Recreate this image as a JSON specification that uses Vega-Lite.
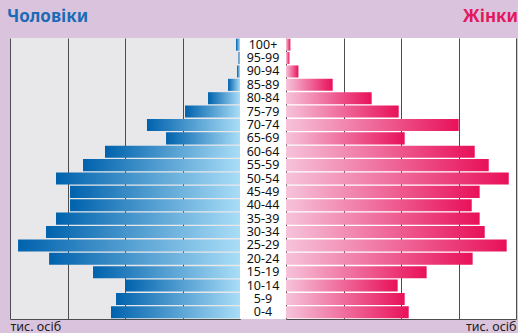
{
  "$schema": "https://vega.github.io/schema/vega-lite/v6.json",
  "background": "#dac4dd",
  "padding": {"left": 7, "top": 8, "right": 2, "bottom": 0},
  "spacing": 0,
  "bounds": "flush",
  "config": {"view": {"stroke": null}, "font": "Noto Sans", "concat": {"spacing": 0}},
  "data": {"values": [
    {"age": "100+", "sex": "m", "value": 3.5}, {"age": "100+", "sex": "f", "value": 3.8},
    {"age": "95-99", "sex": "m", "value": 1.3}, {"age": "95-99", "sex": "f", "value": 3.0},
    {"age": "90-94", "sex": "m", "value": 2.6}, {"age": "90-94", "sex": "f", "value": 10.8},
    {"age": "85-89", "sex": "m", "value": 10.4}, {"age": "85-89", "sex": "f", "value": 40.6},
    {"age": "80-84", "sex": "m", "value": 27.8}, {"age": "80-84", "sex": "f", "value": 74.5},
    {"age": "75-79", "sex": "m", "value": 47.8}, {"age": "75-79", "sex": "f", "value": 98.0},
    {"age": "70-74", "sex": "m", "value": 80.9}, {"age": "70-74", "sex": "f", "value": 150.2},
    {"age": "65-69", "sex": "m", "value": 64.3}, {"age": "65-69", "sex": "f", "value": 103.2},
    {"age": "60-64", "sex": "m", "value": 117.4}, {"age": "60-64", "sex": "f", "value": 164.1},
    {"age": "55-59", "sex": "m", "value": 136.5}, {"age": "55-59", "sex": "f", "value": 176.3},
    {"age": "50-54", "sex": "m", "value": 160.0}, {"age": "50-54", "sex": "f", "value": 193.7},
    {"age": "45-49", "sex": "m", "value": 147.8}, {"age": "45-49", "sex": "f", "value": 168.4},
    {"age": "40-44", "sex": "m", "value": 147.8}, {"age": "40-44", "sex": "f", "value": 161.5},
    {"age": "35-39", "sex": "m", "value": 160.0}, {"age": "35-39", "sex": "f", "value": 168.4},
    {"age": "30-34", "sex": "m", "value": 168.7}, {"age": "30-34", "sex": "f", "value": 172.8},
    {"age": "25-29", "sex": "m", "value": 193.0}, {"age": "25-29", "sex": "f", "value": 191.9},
    {"age": "20-24", "sex": "m", "value": 166.0}, {"age": "20-24", "sex": "f", "value": 162.3},
    {"age": "15-19", "sex": "m", "value": 127.8}, {"age": "15-19", "sex": "f", "value": 122.3},
    {"age": "10-14", "sex": "m", "value": 100.0}, {"age": "10-14", "sex": "f", "value": 97.1},
    {"age": "5-9", "sex": "m", "value": 107.8}, {"age": "5-9", "sex": "f", "value": 103.2},
    {"age": "0-4", "sex": "m", "value": 112.2}, {"age": "0-4", "sex": "f", "value": 106.7}
  ]},
  "hconcat": [
    {
      "width": 230, "height": 281,
      "view": {"fill": "#e8e8ea", "stroke": null},
      "title": {"text": "Чоловіки", "anchor": "start", "color": "#1a6cb6", "fontSize": 17, "fontWeight": "bold", "dx": -3, "offset": 12},
      "transform": [{"filter": "datum.sex === 'm'"}],
      "mark": {"type": "bar", "color": {"gradient": "linear", "x1": 0, "x2": 1, "y1": 0, "y2": 0, "stops": [{"offset": 0, "color": "#0062ad"}, {"offset": 1, "color": "#a9ddf7"}]}},
      "encoding": {
        "y": {"field": "age", "type": "nominal", "sort": ["100+","95-99","90-94","85-89","80-84","75-79","70-74","65-69","60-64","55-59","50-54","45-49","40-44","35-39","30-34","25-29","20-24","15-19","10-14","5-9","0-4"], "axis": null, "scale": {"paddingInner": 0.1, "paddingOuter": 0.05}},
        "x": {"field": "value", "type": "quantitative", "scale": {"domain": [0, 200], "reverse": true, "nice": false},
          "axis": {"values": [0, 50, 100, 150, 200], "grid": true, "gridColor": "#4d4d4d", "gridOpacity": 1, "labels": false, "ticks": false, "domainColor": "#4d4d4d", "title": "тис. осіб", "titleAnchor": "end", "titleAlign": "left", "titleFontWeight": "normal", "titleFontSize": 12.5, "titlePadding": 1, "titleColor": "#222222"}}
      }
    },
    {
      "width": 46, "height": 281,
      "view": {"fill": "#ffffff", "stroke": null},
      "transform": [{"filter": "datum.sex === 'm'"}],
      "mark": {"type": "text", "fontSize": 12.5, "color": "#111111", "align": "center", "baseline": "middle"},
      "encoding": {
        "y": {"field": "age", "type": "nominal", "sort": ["100+","95-99","90-94","85-89","80-84","75-79","70-74","65-69","60-64","55-59","50-54","45-49","40-44","35-39","30-34","25-29","20-24","15-19","10-14","5-9","0-4"], "axis": null, "scale": {"paddingInner": 0.1, "paddingOuter": 0.05}},
        "text": {"field": "age", "type": "nominal"}
      }
    },
    {
      "width": 230, "height": 281,
      "view": {"fill": "#ffffff", "stroke": null},
      "title": {"text": "Жінки", "anchor": "end", "color": "#e3185f", "fontSize": 17, "fontWeight": "bold", "dx": 2, "offset": 12},
      "transform": [{"filter": "datum.sex === 'f'"}],
      "mark": {"type": "bar", "color": {"gradient": "linear", "x1": 0, "x2": 1, "y1": 0, "y2": 0, "stops": [{"offset": 0, "color": "#f6c3da"}, {"offset": 1, "color": "#e8115a"}]}},
      "encoding": {
        "y": {"field": "age", "type": "nominal", "sort": ["100+","95-99","90-94","85-89","80-84","75-79","70-74","65-69","60-64","55-59","50-54","45-49","40-44","35-39","30-34","25-29","20-24","15-19","10-14","5-9","0-4"], "axis": null, "scale": {"paddingInner": 0.1, "paddingOuter": 0.05}},
        "x": {"field": "value", "type": "quantitative", "scale": {"domain": [0, 200], "nice": false},
          "axis": {"values": [0, 50, 100, 150, 200], "grid": true, "gridColor": "#4d4d4d", "gridOpacity": 1, "labels": false, "ticks": false, "domainColor": "#4d4d4d", "title": "тис. осіб", "titleAnchor": "end", "titleFontWeight": "normal", "titleFontSize": 12.5, "titlePadding": 1, "titleColor": "#222222"}}
      }
    }
  ]
}
